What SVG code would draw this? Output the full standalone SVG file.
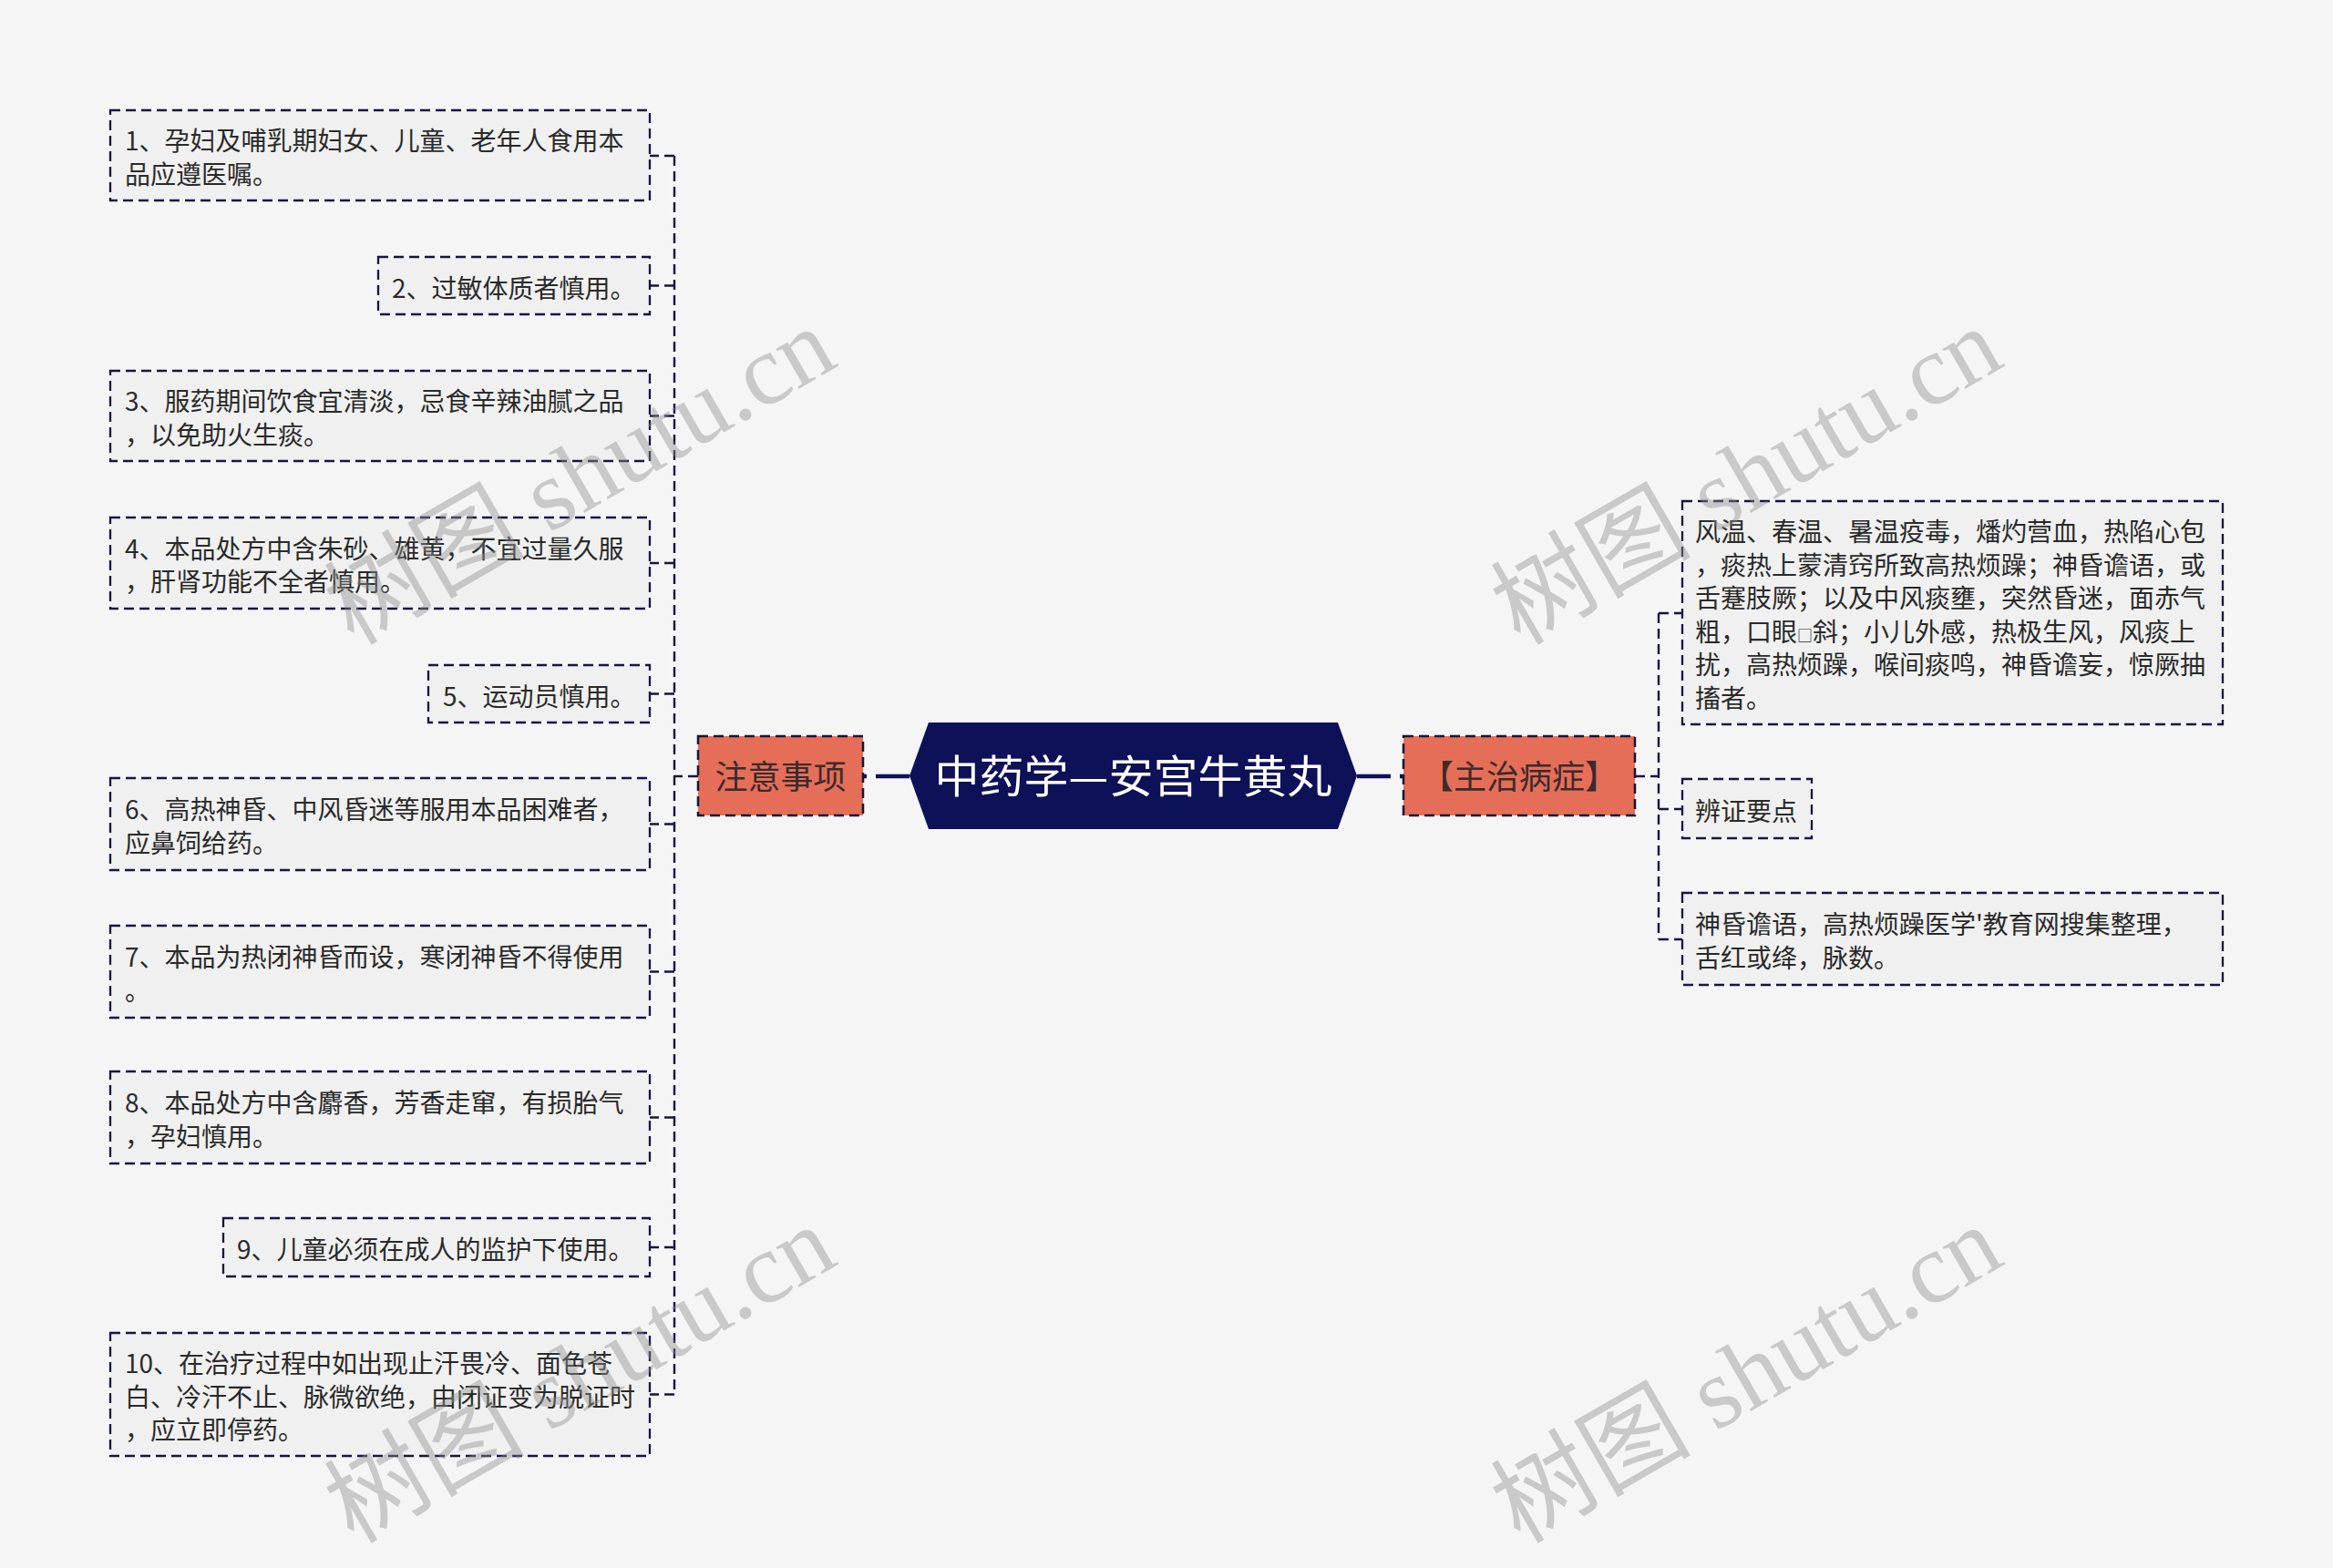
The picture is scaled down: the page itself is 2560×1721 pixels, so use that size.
<svg xmlns="http://www.w3.org/2000/svg" width="2560" height="1721" viewBox="0 0 2560 1721">
<style>
.bg{fill:#f5f5f5}
.box{fill:#f0f0f0;stroke:#161640;stroke-width:2.3;stroke-dasharray:11 6}
.t{font-family:"Noto Sans CJK SC","Liberation Sans",sans-serif;font-size:28px;fill:#2a2a2a}
.sub{fill:#e56e58;stroke:#141438;stroke-width:2.5;stroke-dasharray:11 6}
.subt{font-family:"Noto Sans CJK SC","Liberation Sans",sans-serif;font-size:36px;fill:#3c2b2b;text-anchor:middle}
.root{fill:#0c1158}
.roott{font-family:"Noto Sans CJK SC","Liberation Sans",sans-serif;font-size:49px;fill:#ffffff;text-anchor:middle}
.ln{fill:none;stroke:#161640;stroke-width:2.4;stroke-dasharray:11 6}
.thick{fill:none;stroke:#0c1158;stroke-width:4.5;stroke-dasharray:37 10}
.wm{font-family:"Liberation Serif","Noto Sans CJK SC",serif;font-size:110px;fill:#8c8c8c;fill-opacity:0.42;text-anchor:middle}
</style>
<rect class="bg" x="0" y="0" width="2560" height="1721"/>
<g id="connectors">
<path class="thick" d="M998 852 H947"/>
<path class="thick" d="M1489 852 H1540"/>
<path class="ln" d="M766 852 H740"/>
<path class="ln" d="M740 171 V1530"/>
<path class="ln" d="M740 171 H713"/>
<path class="ln" d="M740 313.5 H713"/>
<path class="ln" d="M740 456.5 H713"/>
<path class="ln" d="M740 618 H713"/>
<path class="ln" d="M740 761.5 H713"/>
<path class="ln" d="M740 904.5 H713"/>
<path class="ln" d="M740 1066.5 H713"/>
<path class="ln" d="M740 1226.5 H713"/>
<path class="ln" d="M740 1369 H713"/>
<path class="ln" d="M740 1530.5 H713"/>
<path class="ln" d="M1794 852 H1820"/>
<path class="ln" d="M1820 673 V1031"/>
<path class="ln" d="M1820 673 H1846"/>
<path class="ln" d="M1820 888 H1846"/>
<path class="ln" d="M1820 1031 H1846"/>
</g>
<g id="root">
<polygon class="root" points="998,851.5 1019,793 1468,793 1489,851.5 1468,910 1019,910"/>
<text class="roott" x="1243.5" y="870">中药学—安宫牛黄丸</text>
</g>
<g id="n-zhuyi">
<rect class="sub" x="766" y="808" width="181" height="87"/>
<text class="subt" x="856.5" y="866">注意事项</text>
</g>
<g id="n-zhuzhi">
<rect class="sub" x="1540" y="808" width="254" height="87"/>
<text class="subt" x="1667" y="866">【主治病症】</text>
</g>
<g id="l1">
<rect class="box" x="121" y="121" width="592" height="99"/>
<text class="t"><tspan x="137" y="165">1、孕妇及哺乳期妇女、儿童、老年人食用本</tspan><tspan x="137" y="202">品应遵医嘱。</tspan></text>
</g>
<g id="l2">
<rect class="box" x="415" y="282" width="298" height="63"/>
<text class="t" x="430" y="327">2、过敏体质者慎用。</text>
</g>
<g id="l3">
<rect class="box" x="121" y="407" width="592" height="99"/>
<text class="t"><tspan x="137" y="451">3、服药期间饮食宜清淡，忌食辛辣油腻之品</tspan><tspan x="137" y="488">，以免助火生痰。</tspan></text>
</g>
<g id="l4">
<rect class="box" x="121" y="568" width="592" height="100"/>
<text class="t"><tspan x="137" y="613">4、本品处方中含朱砂、雄黄，不宜过量久服</tspan><tspan x="137" y="649">，肝肾功能不全者慎用。</tspan></text>
</g>
<g id="l5">
<rect class="box" x="470" y="730" width="243" height="63"/>
<text class="t" x="486" y="775">5、运动员慎用。</text>
</g>
<g id="l6">
<rect class="box" x="121" y="854" width="592" height="101"/>
<text class="t"><tspan x="137" y="899">6、高热神昏、中风昏迷等服用本品困难者，</tspan><tspan x="137" y="936">应鼻饲给药。</tspan></text>
</g>
<g id="l7">
<rect class="box" x="121" y="1016" width="592" height="101"/>
<text class="t"><tspan x="137" y="1061">7、本品为热闭神昏而设，寒闭神昏不得使用</tspan><tspan x="137" y="1098">。</tspan></text>
</g>
<g id="l8">
<rect class="box" x="121" y="1176" width="592" height="101"/>
<text class="t"><tspan x="137" y="1221">8、本品处方中含麝香，芳香走窜，有损胎气</tspan><tspan x="137" y="1258">，孕妇慎用。</tspan></text>
</g>
<g id="l9">
<rect class="box" x="245" y="1337" width="468" height="64"/>
<text class="t" x="260" y="1382">9、儿童必须在成人的监护下使用。</text>
</g>
<g id="l10">
<rect class="box" x="121" y="1463" width="592" height="135"/>
<text class="t"><tspan x="137" y="1507">10、在治疗过程中如出现止汗畏冷、面色苍</tspan><tspan x="137" y="1544">白、冷汗不止、脉微欲绝，由闭证变为脱证时</tspan><tspan x="137" y="1580">，应立即停药。</tspan></text>
</g>
<g id="r1">
<rect class="box" x="1846" y="550" width="593" height="245"/>
<text class="t"><tspan x="1860" y="594">风温、春温、暑温疫毒，燔灼营血，热陷心包</tspan><tspan x="1860" y="631">，痰热上蒙清窍所致高热烦躁；神昏谵语，或</tspan><tspan x="1860" y="667">舌蹇肢厥；以及中风痰壅，突然昏迷，面赤气</tspan><tspan x="1860" y="704">粗，口眼<tspan font-size="17px">□</tspan>斜；小儿外感，热极生风，风痰上</tspan><tspan x="1860" y="740">扰，高热烦躁，喉间痰鸣，神昏谵妄，惊厥抽</tspan><tspan x="1860" y="777">搐者。</tspan></text>
</g>
<g id="r2">
<rect class="box" x="1846" y="855" width="142" height="65"/>
<text class="t" x="1860" y="901">辨证要点</text>
</g>
<g id="r3">
<rect class="box" x="1846" y="980" width="593" height="101"/>
<text class="t"><tspan x="1860" y="1025">神昏谵语，高热烦躁医学'教育网搜集整理，</tspan><tspan x="1860" y="1062">舌红或绛，脉数。</tspan></text>
</g>
<g id="watermark">
<text class="wm" transform="translate(636,522) rotate(-30)" y="38">树图 shutu.cn</text>
<text class="wm" transform="translate(1916,522) rotate(-30)" y="38">树图 shutu.cn</text>
<text class="wm" transform="translate(636,1508) rotate(-30)" y="38">树图 shutu.cn</text>
<text class="wm" transform="translate(1916,1508) rotate(-30)" y="38">树图 shutu.cn</text>
</g>
</svg>
